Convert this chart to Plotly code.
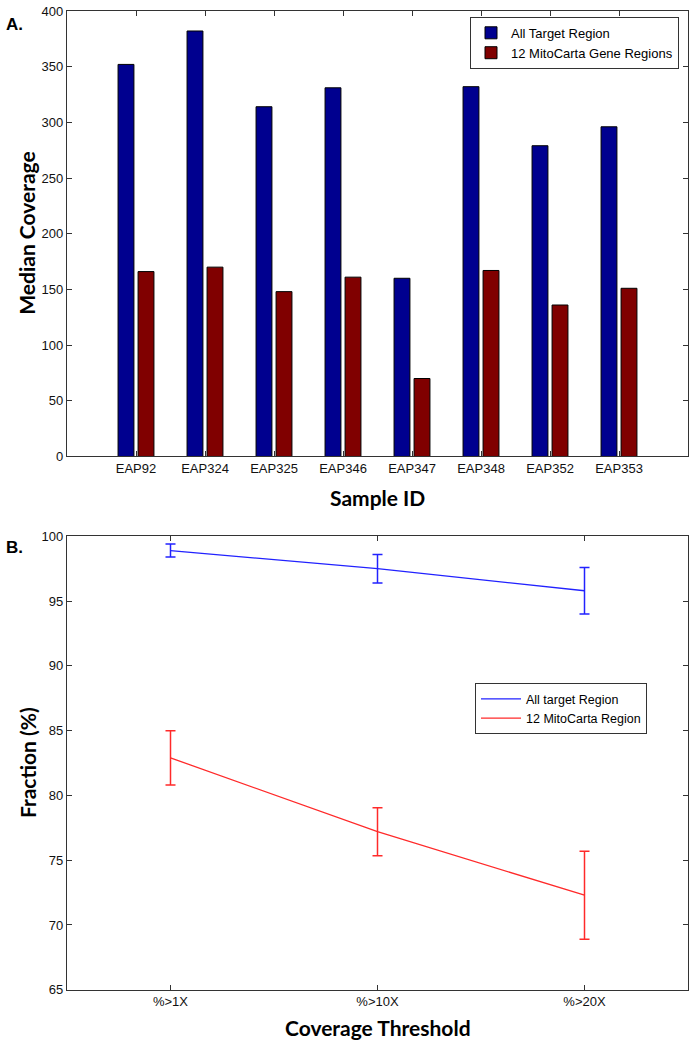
import plotly.graph_objects as go

samples = ["EAP92", "EAP324", "EAP325", "EAP346", "EAP347", "EAP348", "EAP352", "EAP353"]
all_target = [352, 382, 314, 331, 160, 332, 279, 296]
mito_genes = [166, 170, 148, 161, 70, 167, 136, 151]

thresholds = ["%>1X", "%>10X", "%>20X"]
frac_all = [98.9, 97.5, 95.8]
frac_all_err = [0.5, 1.1, 1.8]
frac_mito = [82.9, 77.2, 72.3]
frac_mito_err = [2.1, 1.85, 3.4]

W, H = 690, 1050
def px(x):
    return x / W
def py(y):
    return 1 - y / H

xpos_a = list(range(1, len(samples) + 1))
xpos_b = list(range(1, len(thresholds) + 1))

fig = go.Figure()
fig.add_trace(go.Bar(x=xpos_a, y=all_target, name="All Target Region",
                     marker=dict(color="#00008F", line=dict(color="black", width=1)),
                     width=0.23, offset=-0.26, xaxis="x", yaxis="y", legend="legend"))
fig.add_trace(go.Bar(x=xpos_a, y=mito_genes, name="12 MitoCarta Gene Regions",
                     marker=dict(color="#800000", line=dict(color="black", width=1)),
                     width=0.23, offset=0.03, xaxis="x", yaxis="y", legend="legend"))

fig.add_trace(go.Scatter(x=xpos_b, y=frac_all, name="All target Region", mode="lines",
                         line=dict(color="#2222ff", width=1.3),
                         error_y=dict(type="data", array=frac_all_err, color="#2222ff", thickness=1.5, width=5),
                         xaxis="x2", yaxis="y2", legend="legend2"))
fig.add_trace(go.Scatter(x=xpos_b, y=frac_mito, name="12 MitoCarta Region", mode="lines",
                         line=dict(color="#ff2a2a", width=1.3),
                         error_y=dict(type="data", array=frac_mito_err, color="#ff2a2a", thickness=1.5, width=5),
                         xaxis="x2", yaxis="y2", legend="legend2"))

tickfont = dict(family="Liberation Sans, Arial", size=13, color="#111")
axis_common = dict(showline=True, linecolor="#333", linewidth=1.2, mirror="ticks",
                   ticks="inside", ticklen=5, tickcolor="#333", showgrid=False,
                   zeroline=False, tickfont=tickfont)

fig.update_layout(
    width=W, height=H, margin=dict(l=0, r=0, t=0, b=0),
    plot_bgcolor="white", paper_bgcolor="white", barmode="overlay",
    xaxis=dict(domain=[px(67), px(688)], range=[0, 9], tickvals=xpos_a, ticktext=samples,
               anchor="y", **axis_common),
    yaxis=dict(domain=[py(456), py(4)], range=[0, 400], dtick=50, anchor="x", **axis_common),
    xaxis2=dict(domain=[px(67), px(688)], range=[0.5, 3.5], tickvals=xpos_b, ticktext=thresholds,
                anchor="y2", **axis_common),
    yaxis2=dict(domain=[py(997), py(537)], range=[65, 100], dtick=5, anchor="x2", **axis_common),
    legend=dict(x=px(470), y=py(10), xanchor="left", yanchor="top", bgcolor="white",
                bordercolor="#333", borderwidth=1, font=dict(family="Liberation Sans, Arial", size=13, color="black"),
                tracegroupgap=0, itemwidth=30),
    legend2=dict(x=px(475), y=py(686), xanchor="left", yanchor="top", bgcolor="white",
                 bordercolor="#333", borderwidth=1, font=dict(family="Liberation Sans, Arial", size=12.5, color="black"),
                 tracegroupgap=0, itemwidth=40),
    showlegend=True,
)

title_font = dict(family="Lato, Open Sans", size=21, color="black")
ann = [
    dict(text="<b>A.</b>", x=px(4), y=py(18), xanchor="left", yanchor="middle", font=dict(family="Liberation Sans, Arial", size=17, color="black")),
    dict(text="<b>B.</b>", x=px(4), y=py(548), xanchor="left", yanchor="middle", font=dict(family="Liberation Sans, Arial", size=17, color="black")),
    dict(text="<b>Median Coverage</b>", x=px(27), y=py(230), textangle=-90, xanchor="center", yanchor="middle", font=title_font),
    dict(text="<b>Sample ID</b>", x=px(378), y=py(498), xanchor="center", yanchor="middle", font=title_font),
    dict(text="<b>Fraction (%)</b>", x=px(27), y=py(767), textangle=-90, xanchor="center", yanchor="middle", font=title_font),
    dict(text="<b>Coverage Threshold</b>", x=px(378), y=py(1035), xanchor="center", yanchor="middle", font=title_font),
]
for a in ann:
    a.update(xref="paper", yref="paper", showarrow=False)
fig.update_layout(annotations=ann)

fig.write_html("out.html", config={"displayModeBar": False},
               post_script="document.body.style.margin='0';")
